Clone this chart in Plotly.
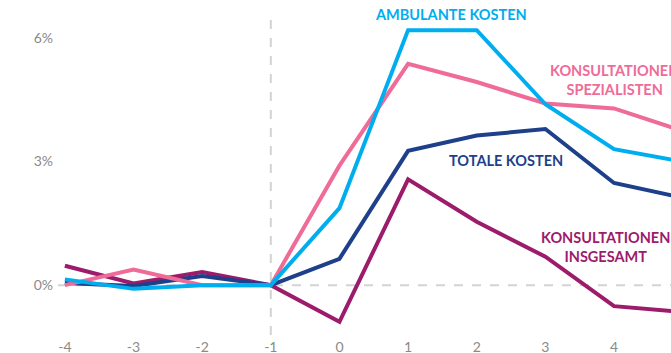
import plotly.graph_objects as go

years = [-4, -3, -2, -1, 0, 1, 2, 3, 4, 5]
ambulante_kosten = [0.14, -0.09, 0.0, 0.0, 1.87, 6.19, 6.19, 4.39, 3.30, 3.00]
konsult_spezialisten = [0.0, 0.38, 0.0, 0.0, 2.90, 5.37, 4.93, 4.41, 4.29, 3.74]
totale_kosten = [0.05, -0.02, 0.22, 0.0, 0.64, 3.26, 3.63, 3.79, 2.48, 2.12]
konsult_insgesamt = [0.47, 0.04, 0.32, 0.0, -0.89, 2.57, 1.54, 0.69, -0.51, -0.65]

series = [
    ("Konsultationen insgesamt", konsult_insgesamt, "#9c1b6b"),
    ("Totale Kosten", totale_kosten, "#1e3f8a"),
    ("Konsultationen Spezialisten", konsult_spezialisten, "#ef6b98"),
    ("Ambulante Kosten", ambulante_kosten, "#00aeef"),
]

x_ticks = [-4, -3, -2, -1, 0, 1, 2, 3, 4]
x_tick_text = ["-4", "-3", "-2", "-1", "0", "1", "2", "3", "4"]
y_ticks = [0, 3, 6]
y_tick_text = ["0%", "3%", "6%"]

fig = go.Figure()
for name, vals, col in series:
    fig.add_trace(go.Scatter(x=years, y=vals, mode="lines", name=name,
                             line=dict(color=col, width=4), cliponaxis=True))

fig.add_shape(type="line", xref="paper", yref="y", x0=0, x1=1, y0=0, y1=0,
              line=dict(color="#d3d3d3", width=2, dash="dash"), layer="below")
fig.add_shape(type="line", xref="x", yref="paper", x0=-1, x1=-1, y0=0, y1=1,
              line=dict(color="#d3d3d3", width=2, dash="dash"), layer="below")

lab_font = "Lato"
annots = [
    ("AMBULANTE KOSTEN", 1.62, 6.58, "#00aeef"),
    ("KONSULTATIONEN<br>SPEZIALISTEN", 4.0, 4.99, "#ef6b98"),
    ("TOTALE KOSTEN", 2.42, 3.03, "#1e3f8a"),
    ("KONSULTATIONEN<br>INSGESAMT", 3.88, 0.93, "#9c1b6b"),
]
for txt, ax, ay, col in annots:
    fig.add_annotation(x=ax, y=ay, text="<b>" + txt + "</b>", showarrow=False,
                       font=dict(family=lab_font, size=14.5, color=col),
                       xanchor="center", yanchor="middle", align="center")

fig.update_layout(
    width=671, height=353,
    margin=dict(l=58, r=0, t=12, b=18, autoexpand=False),
    paper_bgcolor="white", plot_bgcolor="white",
    showlegend=False,
    font=dict(family="Lato", color="#8a8a8a", size=14),
    xaxis=dict(range=[-4.1, 4.83], tickvals=x_ticks, ticktext=x_tick_text,
               showgrid=False, zeroline=False, showline=False, ticks="",
               ticklabelstandoff=2, automargin=False, fixedrange=True),
    yaxis=dict(range=[-1.21, 6.63], tickvals=y_ticks, ticktext=y_tick_text,
               showgrid=False, zeroline=False, showline=False, ticks="",
               ticklabelstandoff=4, automargin=False, fixedrange=True),
)
fig.write_html("out.html")
